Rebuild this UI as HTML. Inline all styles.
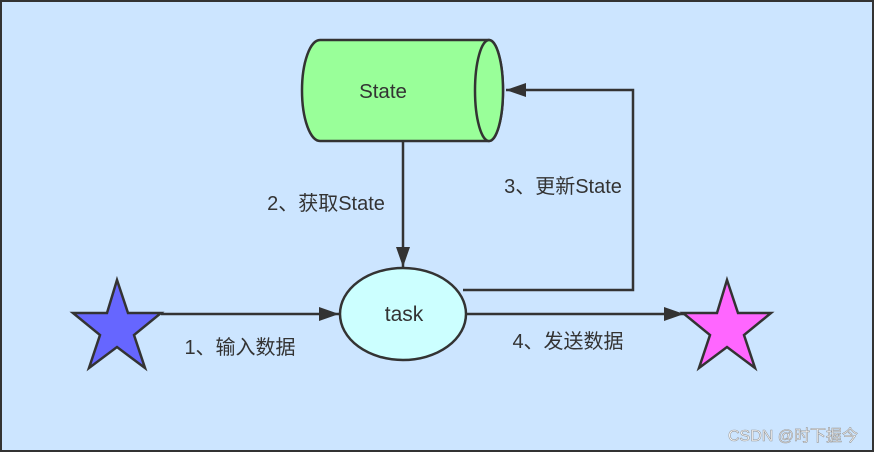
<!DOCTYPE html>
<html><head><meta charset="utf-8"><style>
html,body{margin:0;padding:0;background:#cce5ff}
svg{display:block}
text{font-family:"Liberation Sans","Noto Sans CJK SC",sans-serif;fill:#333}
</style></head><body>
<svg width="874" height="452" viewBox="0 0 874 452" xmlns="http://www.w3.org/2000/svg">
<rect x="1" y="1" width="872" height="450" fill="#cce5ff" stroke="#333" stroke-width="2"/>
<defs>
<marker id="b" viewBox="0 0 20 14" markerWidth="20" markerHeight="14" refX="20" refY="7" orient="auto" markerUnits="userSpaceOnUse"><path d="M0,0 L20,7 L0,14 z" fill="#333"/></marker></defs>
<path d="M320,40 L489,40 A14,50.5 0 0 1 489,141 L320,141 A18,50.5 0 0 1 320,40 z" fill="#99ff99" stroke="#333" stroke-width="2.5"/>
<ellipse cx="489" cy="90.5" rx="14" ry="50.5" fill="#99ff99" stroke="#333" stroke-width="2.5"/>
<text x="383" y="98" font-size="20.5" text-anchor="middle">State</text>
<line x1="403" y1="141" x2="403" y2="267" stroke="#333" stroke-width="2.5" marker-end="url(#b)"/>
<polyline points="463,290 633,290 633,90 506,90" fill="none" stroke="#333" stroke-width="2.5" marker-end="url(#b)"/>
<line x1="161" y1="314" x2="339" y2="314" stroke="#333" stroke-width="2.5" marker-end="url(#b)"/>
<line x1="466" y1="314" x2="684" y2="314" stroke="#333" stroke-width="2.5" marker-end="url(#b)"/>
<ellipse cx="403" cy="314" rx="63" ry="46" fill="#ccffff" stroke="#333" stroke-width="2.5"/>
<text x="404" y="321" font-size="21" text-anchor="middle">task</text>
<polygon points="117,280 107,313 73,313 100,335 89,368 117,347 145,368 134,335 161,313 128,313" fill="#6666ff" stroke="#333" stroke-width="2.5"/>
<polygon points="727,280 717,313 683,313 710,335 699,368 727,347 755,368 744,335 771,313 738,313" fill="#ff66ff" stroke="#333" stroke-width="2.5"/>
<text x="326" y="210" font-size="20" text-anchor="middle">2、获取State</text>
<text x="563" y="193" font-size="20" text-anchor="middle">3、更新State</text>
<text x="240" y="354" font-size="20" text-anchor="middle">1、输入数据</text>
<text x="568" y="348" font-size="20" text-anchor="middle">4、发送数据</text>
<text x="858" y="441" font-size="16" text-anchor="end" style="fill:#fff;stroke:#999;stroke-width:0.6">CSDN @时下握今</text>
</svg>
</body></html>
